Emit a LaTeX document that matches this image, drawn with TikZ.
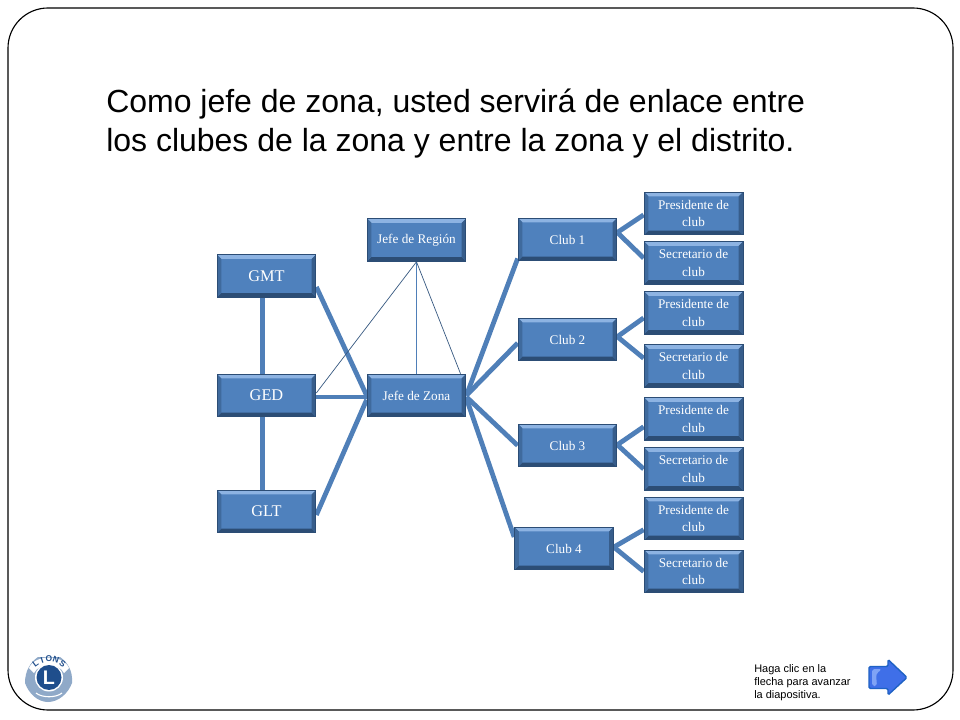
\documentclass[tikz,border=0pt]{standalone}
\usepackage{fontspec}
\usetikzlibrary{backgrounds}
\setmainfont{Liberation Serif}
\newfontfamily\arialfont{Liberation Sans}
\definecolor{boxblue}{HTML}{4F81BD}
\definecolor{boxdark}{HTML}{2C4D75}
\definecolor{boxlight}{HTML}{8DB3E2}
\definecolor{linkblue}{HTML}{4F7FB8}
\definecolor{lionblue}{HTML}{1F4E8C}
\definecolor{liongrey}{HTML}{8FA9C8}
\definecolor{nextblue}{HTML}{3F6FE8}
\definecolor{nextedge}{HTML}{1F62C4}
\definecolor{nextlight}{HTML}{7FA3F5}
\tikzset{
  orgbox/.style={draw=boxdark,line width=.6pt,fill=boxblue,text=white,inner sep=0pt,
    minimum width=2.47cm,minimum height=1.07cm,align=center,
    path picture={
      \fill[boxlight] (path picture bounding box.north west) -- (path picture bounding box.north east)
        -- ([xshift=-3pt,yshift=-3pt]path picture bounding box.north east)
        -- ([xshift=3pt,yshift=-3pt]path picture bounding box.north west) -- cycle;
      \fill[boxdark] (path picture bounding box.south west) -- (path picture bounding box.south east)
        -- ([xshift=-3pt,yshift=3pt]path picture bounding box.south east)
        -- ([xshift=3pt,yshift=3pt]path picture bounding box.south west) -- cycle;
      \fill[boxdark!70!boxblue] (path picture bounding box.north east) -- (path picture bounding box.south east)
        -- ([xshift=-3pt,yshift=3pt]path picture bounding box.south east)
        -- ([xshift=-3pt,yshift=-3pt]path picture bounding box.north east) -- cycle;
      \fill[boxdark!45!boxblue] (path picture bounding box.north west) -- (path picture bounding box.south west)
        -- ([xshift=3pt,yshift=3pt]path picture bounding box.south west)
        -- ([xshift=3pt,yshift=-3pt]path picture bounding box.north west) -- cycle;
    }},
  bigbox/.style={orgbox,font=\fontsize{11.6}{13}\selectfont},
  smallbox/.style={orgbox,font=\fontsize{9.4}{12.5}\selectfont},
  thicklink/.style={linkblue,line width=3.4pt},
  midlink/.style={linkblue,line width=1pt},
  thinlink/.style={draw=linkblue!70!black,line width=.5pt},
}
\begin{document}
\begin{tikzpicture}[x=.025cm,y=-.025cm]
\useasboundingbox (0,0) rectangle (960,720);
% frame
\draw[black,line width=.8pt,rounded corners=1cm] (8,8) rectangle (953,710);

% title
\node[anchor=north west,inner sep=0pt,align=left,font=\arialfont\fontsize{22.75}{27.7}\selectfont] (title) at (106,89)
  {Como jefe de zona, usted servirá de enlace entre\\los clubes de la zona y entre la zona y el distrito.};

% left column
\node[bigbox] (GMT) at (266.5,276) {GMT};
\node[bigbox] (GED) at (266.5,395.5) {GED};
\node[bigbox] (GLT) at (266.5,511.5) {GLT};

\node[smallbox] (region) at (416.5,240) {Jefe de Región};
\node[smallbox] (zona) at (416.5,395.5) {Jefe de Zona};

% clubs
\node[smallbox] (club1) at (567.5,239.5) {Club 1};
\node[smallbox] (club2) at (567.5,339.5) {Club 2};
\node[smallbox] (club3) at (567.5,445.5) {Club 3};
\node[smallbox] (club4) at (564,548.5) {Club 4};

\node[smallbox] (pres1) at (693.5,213.5) {Presidente de\\club};
\node[smallbox] (sec1) at (693.5,263) {Secretario de\\club};
\node[smallbox] (pres2) at (693.5,313) {Presidente de\\club};
\node[smallbox] (sec2) at (693.5,366) {Secretario de\\club};
\node[smallbox] (pres3) at (693.5,419) {Presidente de\\club};
\node[smallbox] (sec3) at (693.5,469) {Secretario de\\club};
\node[smallbox] (pres4) at (693.5,518.5) {Presidente de\\club};
\node[smallbox] (sec4) at (693.5,571.5) {Secretario de\\club};

% links
\begin{scope}[on background layer]
\fill[white] (0,0) rectangle (960,720);
\draw[thicklink] ([xshift=-2.7pt]GMT.south) -- ([xshift=-2.7pt]GED.north);
\draw[thicklink] ([xshift=-2.7pt]GED.south) -- ([xshift=-2.7pt]GLT.north);
\draw[thicklink] ([yshift=-7.8pt]GMT.east) -- (zona.west);
\draw[thicklink] ([yshift=-1pt]GED.east) -- ([yshift=-1pt]zona.west);
\draw[thicklink] ([yshift=-2.5pt]GLT.east) -- ([yshift=-3pt]zona.west);
\draw[thinlink] (region.south) -- ([yshift=1.8pt]GED.east);
\draw[midlink] (region.south) -- (zona.north);
\draw[thinlink] (region.south) -- ([xshift=31.3pt]zona.north);

\draw[thicklink] (zona.east) -- ([yshift=2pt]club1.south west);
\draw[thicklink] (zona.east) -- ([yshift=-2.5pt]club2.west);
\draw[thicklink] ([yshift=-1pt]zona.east) -- (club3.west);
\draw[thicklink] ([yshift=-2pt]zona.east) -- ([yshift=8.2pt]club4.west);

\foreach \c/\p/\s/\cy/\py/\sy in {club1/pres1/sec1/5/-1/3.5,club2/pres2/sec2/2/-3.5/5.5,club3/pres3/sec3/.5/-5.5/0,club4/pres4/sec4/1/-8/0}{
  \draw[thicklink] ([yshift=\cy pt]\c.east) -- ([yshift=\py pt]\p.west);
  \draw[thicklink] ([yshift=\cy pt]\c.east) -- ([yshift=\sy pt]\s.west);
}
\end{scope}

% logo
\fill[liongrey] (25,683) .. controls (25,670) and (31,662) .. (38,657) -- (60,657) .. controls (67,662) and (73,670) .. (72,683)
  .. controls (68,694) and (58,702) .. (48,702) .. controls (38,702) and (29,694) .. (25,683) -- cycle;
\fill[white] (29,668) .. controls (35,654) and (63,654) .. (69,668) -- (64,673) .. controls (58,662) and (40,662) .. (34,673) -- cycle;
\foreach \l/\a/\lx/\ly in {L/36/35.5/664,I/18/42/660,O/0/49/658.5,N/-18/56/660,S/-36/62.5/664}{
  \node[lionblue,rotate=\a,font=\arialfont\bfseries\fontsize{6}{6}\selectfont,inner sep=0pt] (logo\l) at (\lx,\ly) {\l};
}
\fill[white] (49,677.5) circle (14);
\fill[lionblue] (49,677.5) circle (12.5);
\node[white,font=\arialfont\bfseries\fontsize{14}{14}\selectfont,inner sep=0pt] (logoL) at (49,677.5) {L};
\draw[white,line width=.8pt] (36,693) .. controls (42,698) and (56,698) .. (62,693);

% next slide
\node[anchor=north west,inner sep=0pt,align=left,font=\arialfont\fontsize{7.8}{9.2}\selectfont] (hint) at (754,664)
  {Haga clic en la\\flecha para avanzar\\la diapositiva.};
\draw[fill=nextblue,draw=nextedge,line width=1pt,rounded corners=1pt]
  (869,666.5) -- (888,666.5) -- (888,659.5) -- (907,677.5) -- (888,695) -- (888,688.5) -- (869,688.5) -- cycle;
\fill[nextlight,rounded corners=2pt] (872,669) -- (882,669) -- (876,674) -- (877,686) -- (872,686) -- cycle;
\end{tikzpicture}
\end{document}
